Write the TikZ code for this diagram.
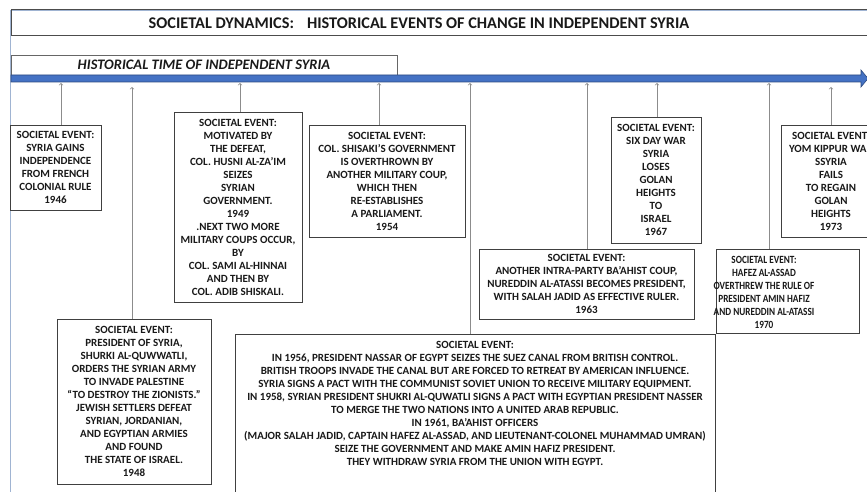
\documentclass[tikz,border=0pt]{standalone}
\usepackage{fontspec}
\setmainfont{Carlito}
\newfontfamily\narrowfont[FakeStretch=0.84]{Carlito}
\usetikzlibrary{calc}
\definecolor{timeblue}{RGB}{68,114,196}
\definecolor{frameblue}{RGB}{160,180,210}

\begin{document}
\begin{tikzpicture}[x=1pt,y=-1pt,
  evbox/.style={draw=black!75,line width=0.9pt,fill=white,align=center,inner sep=0pt,
    text=black!90,font=\fontsize{11}{13}\selectfont\bfseries},
  evtext/.style={align=center,inner sep=0pt,text=black!90,font=\narrowfont\fontsize{11}{13}\selectfont\bfseries},
  link/.style={draw=black!45,line width=0.7pt,->}]
\useasboundingbox (0,0) rectangle (867,492);
\draw[frameblue,line width=0.8pt] (10,492) -- (10,10) -- (867,10);
\draw[black!70,line width=1pt] (11,10) rectangle (880,36);
\node[text=black!90,font=\fontsize{16.3}{18}\selectfont\bfseries] (title) at (419,23)
  {SOCIETAL DYNAMICS:\hspace{0.8em}HISTORICAL EVENTS OF CHANGE IN INDEPENDENT SYRIA};
\node[draw=black!60,line width=0.8pt,minimum width=386pt,minimum height=20pt,inner sep=0pt,
  text=black!90,font=\fontsize{14.5}{16}\selectfont\bfseries\itshape] (era) at (204,65)
  {HISTORICAL TIME OF INDEPENDENT SYRIA};
\draw[fill=timeblue,draw=timeblue!65!black,line width=0.6pt] (11,75) -- (861,75) -- (861,70)
  -- (868,78.5) -- (861,87) -- (861,82) -- (11,82) -- cycle;
\foreach \n/\x/\y in {46/61/83,48/132/87,49/240/83,54/379/83,61/470/83,63/587/83,67/657/83,70/769/83,73/831/87}
  \coordinate (t\n) at (\x,\y);

\node[evbox,minimum width=91pt,minimum height=85pt] (e46) at (55.5,167.5)
  {SOCIETAL EVENT:\\SYRIA GAINS\\INDEPENDENCE\\FROM FRENCH\\COLONIAL RULE\\1946};
\node[evbox,minimum width=154pt,minimum height=165pt] (e48) at (134,401.5)
  {SOCIETAL EVENT:\\PRESIDENT OF SYRIA,\\SHURKI AL-QUWWATLI,\\ORDERS THE SYRIAN ARMY\\TO INVADE PALESTINE\\
   “TO DESTROY THE ZIONISTS.”\\JEWISH SETTLERS DEFEAT\\SYRIAN, JORDANIAN,\\AND EGYPTIAN ARMIES\\AND FOUND\\
   THE STATE OF ISRAEL.\\1948};
\node[evbox,minimum width=128pt,minimum height=190pt] (e49) at (238,207)
  {SOCIETAL EVENT:\\MOTIVATED BY\\THE DEFEAT,\\COL. HUSNI AL-ZA’IM\\SEIZES\\SYRIAN\\GOVERNMENT.\\1949\\
   .NEXT TWO MORE\\MILITARY COUPS OCCUR,\\BY\\COL. SAMI AL-HINNAI\\AND THEN BY\\COL. ADIB SHISKALI.};
\node[evbox,minimum width=156pt,minimum height=112pt] (e54) at (387,181)
  {SOCIETAL EVENT:\\COL. SHISAKI’S GOVERNMENT\\IS OVERTHROWN BY\\ANOTHER MILITARY COUP,\\WHICH THEN\\
   RE-ESTABLISHES\\A PARLIAMENT.\\1954};
\node[evbox,anchor=north,minimum width=480pt,inner ysep=7pt,text depth=40pt] (e61) at (475,334)
  {SOCIETAL EVENT:\\
   IN 1956, PRESIDENT NASSAR OF EGYPT SEIZES THE SUEZ CANAL FROM BRITISH CONTROL.\\
   BRITISH TROOPS INVADE THE CANAL BUT ARE FORCED TO RETREAT BY AMERICAN INFLUENCE.\\
   SYRIA SIGNS A PACT WITH THE COMMUNIST SOVIET UNION TO RECEIVE MILITARY EQUIPMENT.\\
   IN 1958, SYRIAN PRESIDENT SHUKRI AL-QUWATLI SIGNS A PACT WITH EGYPTIAN PRESIDENT NASSER\\
   TO MERGE THE TWO NATIONS INTO A UNITED ARAB REPUBLIC.\\
   IN 1961, BA’AHIST OFFICERS\\
   (MAJOR SALAH JADID, CAPTAIN HAFEZ AL-ASSAD, AND LIEUTENANT-COLONEL MUHAMMAD UMRAN)\\
   SEIZE THE GOVERNMENT AND MAKE AMIN HAFIZ PRESIDENT.\\
   THEY WITHDRAW SYRIA FROM THE UNION WITH EGYPT.};
\node[evbox,minimum width=215pt,minimum height=70pt] (e63) at (586.5,284)
  {SOCIETAL EVENT:\\ANOTHER INTRA-PARTY BA’AHIST COUP,\\NUREDDIN AL-ATASSI BECOMES PRESIDENT,\\
   WITH SALAH JADID AS EFFECTIVE RULER.\\1963};
\node[evbox,minimum width=90pt,minimum height=126pt] (e67) at (656,180)
  {SOCIETAL EVENT:\\SIX DAY WAR\\SYRIA\\LOSES\\GOLAN\\HEIGHTS\\TO\\ISRAEL\\1967};
\node[evbox,minimum width=143pt,minimum height=84pt] (e70) at (787.5,291) {};
\node[evtext] (e70txt) at (764,292.5)
  {SOCIETAL EVENT:\\HAFEZ AL-ASSAD\\OVERTHREW THE RULE OF\\PRESIDENT AMIN HAFIZ\\AND NUREDDIN AL-ATASSI\\1970};
\node[evbox,minimum width=100pt,minimum height=112pt] (e73) at (831,181)
  {SOCIETAL EVENT:\\YOM KIPPUR WAR\\SSYRIA\\FAILS\\TO REGAIN\\GOLAN\\HEIGHTS\\1973};

\foreach \n in {46,48,49,54,61,63,67,70,73}
  \draw[link] (t\n |- e\n.north) -- (t\n);
\end{tikzpicture}
\end{document}
